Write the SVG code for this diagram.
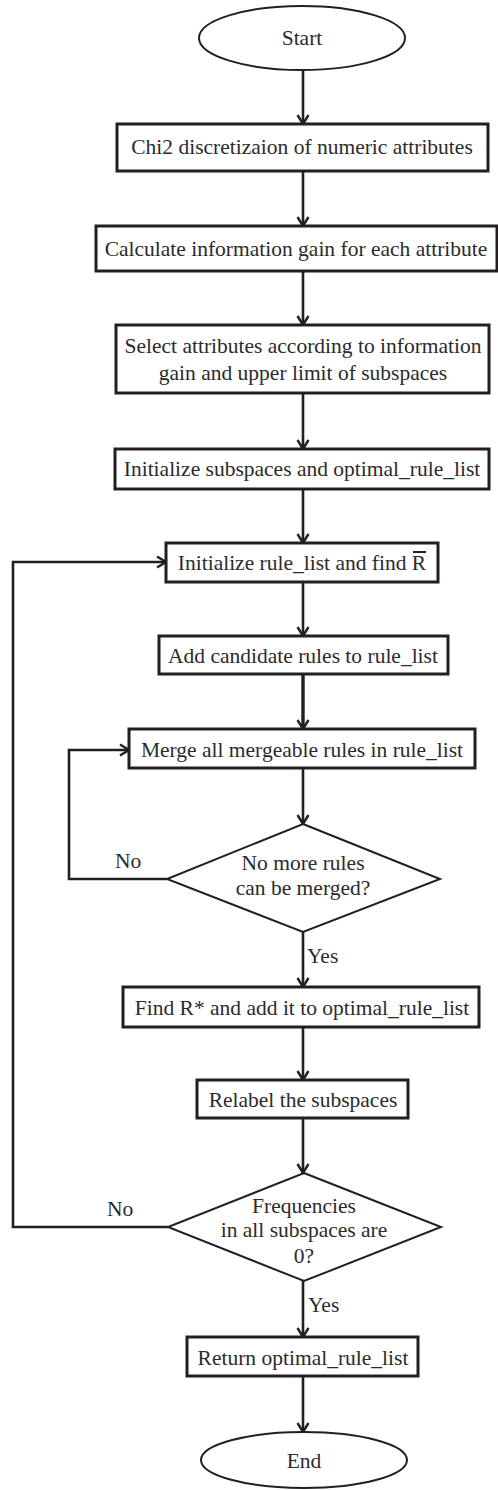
<svg xmlns="http://www.w3.org/2000/svg" width="498" height="1490" viewBox="0 0 498 1490">
<style>
.bg{fill:#fff}
.box{fill:#fff;stroke:#231f20;stroke-width:3}
.term{fill:#fff;stroke:#231f20;stroke-width:2}
.dia{fill:#fff;stroke:#231f20;stroke-width:2}
.t{font-family:"Liberation Serif","Times New Roman",serif;font-size:21.5px;fill:#2b2b2b;text-anchor:middle}
.lbl{font-family:"Liberation Serif","Times New Roman",serif;font-size:21.5px;fill:#2b2b2b}
.c{fill:none;stroke:#231f20;stroke-width:2.6;marker-end:url(#ah)}
</style>
<defs>
<marker id="ah" markerUnits="userSpaceOnUse" markerWidth="14" markerHeight="14" viewBox="0 0 14 14" refX="12" refY="7" orient="auto">
<path d="M3,1.5 L12,7 L3,12.5" fill="none" stroke="#231f20" stroke-width="2.4"/>
</marker>
</defs>
<rect class="bg" x="0" y="0" width="498" height="1490"/>
<g id="connectors">
<line class="c" x1="303" y1="70" x2="303" y2="124"/>
<line class="c" x1="303" y1="171" x2="303" y2="226"/>
<line class="c" x1="303" y1="271" x2="303" y2="325"/>
<line class="c" x1="303" y1="393" x2="303" y2="449"/>
<line class="c" x1="303" y1="489" x2="303" y2="543"/>
<line class="c" x1="303" y1="582" x2="303" y2="636"/>
<line class="c" x1="303" y1="674" x2="303" y2="729" style="stroke-width:3.4"/>
<line class="c" x1="303" y1="768" x2="303" y2="824"/>
<polyline class="c" points="167,879 69,879 69,750 129,750"/>
<line class="c" x1="303" y1="932" x2="303" y2="987"/>
<line class="c" x1="303" y1="1027" x2="303" y2="1080"/>
<line class="c" x1="303" y1="1118" x2="303" y2="1173"/>
<polyline class="c" points="168,1227 13,1227 13,562 166,562"/>
<line class="c" x1="303" y1="1281" x2="303" y2="1337"/>
<line class="c" x1="303" y1="1376" x2="303" y2="1432"/>
<text class="lbl" x="115" y="868">No</text>
<text class="lbl" x="307" y="963">Yes</text>
<text class="lbl" x="107" y="1216">No</text>
<text class="lbl" x="308" y="1312">Yes</text>
</g>
<g id="start">
<ellipse class="term" cx="302" cy="38" rx="103" ry="32"/>
<text class="t" x="302" y="45">Start</text>
</g>
<g id="chi2">
<rect class="box" x="117" y="124" width="371" height="47"/>
<text class="t" x="302" y="154">Chi2 discretizaion of numeric attributes</text>
</g>
<g id="infogain">
<rect class="box" x="96" y="226" width="401" height="45"/>
<text class="t" x="296" y="256">Calculate information gain for each attribute</text>
</g>
<g id="select">
<rect class="box" x="116" y="325" width="373" height="68"/>
<text class="t" x="303" y="353">Select attributes according to information</text>
<text class="t" x="303" y="380">gain and upper limit of subspaces</text>
</g>
<g id="initsub">
<rect class="box" x="115" y="449" width="374" height="40"/>
<text class="t" x="302" y="476">Initialize subspaces and optimal_rule_list</text>
</g>
<g id="initrule">
<rect class="box" x="166" y="543" width="272" height="39"/>
<text class="t" x="302" y="570">Initialize rule_list and find R</text>
<line x1="413" y1="552" x2="426" y2="552" stroke="#231f20" stroke-width="2"/>
</g>
<g id="addcand">
<rect class="box" x="159" y="636" width="289" height="38"/>
<text class="t" x="303" y="663">Add candidate rules to rule_list</text>
</g>
<g id="merge">
<rect class="box" x="129" y="729" width="346" height="39"/>
<text class="t" x="302" y="757">Merge all mergeable rules in rule_list</text>
</g>
<g id="dec1">
<polygon class="dia" points="303,824 440,879 303,932 167,879"/>
<text class="t" x="303" y="870">No more rules</text>
<text class="t" x="303" y="895">can be merged?</text>
</g>
<g id="findr">
<rect class="box" x="123" y="987" width="356" height="40"/>
<text class="t" x="302" y="1015">Find R* and add it to optimal_rule_list</text>
</g>
<g id="relabel">
<rect class="box" x="197" y="1080" width="211" height="38"/>
<text class="t" x="303" y="1107">Relabel the subspaces</text>
</g>
<g id="dec2">
<polygon class="dia" points="304,1173 441,1227 304,1281 168,1227"/>
<text class="t" x="304" y="1213">Frequencies</text>
<text class="t" x="304" y="1237">in all subspaces are</text>
<text class="t" x="304" y="1263">0?</text>
</g>
<g id="return">
<rect class="box" x="187" y="1337" width="231" height="39"/>
<text class="t" x="303" y="1365">Return optimal_rule_list</text>
</g>
<g id="end">
<ellipse class="term" cx="304" cy="1460" rx="103" ry="28"/>
<text class="t" x="304" y="1468">End</text>
</g>
</svg>
